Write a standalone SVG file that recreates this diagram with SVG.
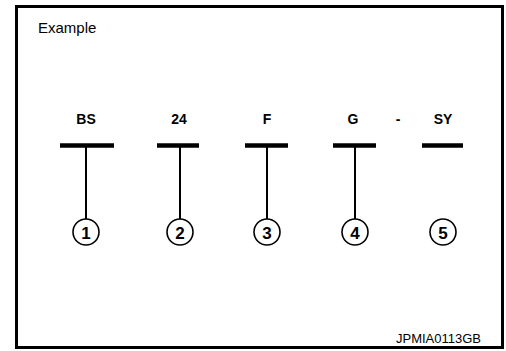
<svg xmlns="http://www.w3.org/2000/svg" width="506" height="351" viewBox="0 0 506 351">
<style>
.t{font-family:"Liberation Sans",Arial,sans-serif;fill:#000}
.lab{font-size:14px;font-weight:bold;text-anchor:middle}
.num{font-size:17px;font-weight:bold;text-anchor:middle}
.bar{stroke:#000;stroke-width:4.5}
.wire{stroke:#000;stroke-width:2}
.c{fill:#fff;stroke:#000;stroke-width:1.6}
</style>
<rect x="16.5" y="6.5" width="486" height="341" fill="#fff" stroke="#000" stroke-width="3"/>
<text class="t" x="38" y="33" font-size="15">Example</text>
<g id="connectors">
<line class="wire" x1="86" y1="145" x2="86" y2="219"/>
<line class="wire" x1="180" y1="145" x2="180" y2="219"/>
<line class="wire" x1="267" y1="145" x2="267" y2="219"/>
<line class="wire" x1="355" y1="145" x2="355" y2="219"/>
</g>
<g id="n1"><text class="t lab" x="86" y="124">BS</text><line class="bar" x1="60" y1="145.5" x2="114" y2="145.5"/><circle class="c" cx="86" cy="232" r="13"/><text class="t num" x="86" y="238.5">1</text></g>
<g id="n2"><text class="t lab" x="179" y="124">24</text><line class="bar" x1="157" y1="145.5" x2="199" y2="145.5"/><circle class="c" cx="180" cy="232" r="13"/><text class="t num" x="180" y="238.5">2</text></g>
<g id="n3"><text class="t lab" x="267" y="124">F</text><line class="bar" x1="245" y1="145.5" x2="288" y2="145.5"/><circle class="c" cx="267" cy="232" r="13"/><text class="t num" x="267" y="238.5">3</text></g>
<g id="n4"><text class="t lab" x="353" y="124">G</text><line class="bar" x1="333" y1="145.5" x2="376" y2="145.5"/><circle class="c" cx="355" cy="232" r="13"/><text class="t num" x="355" y="238.5">4</text></g>
<g id="dash"><text class="t lab" x="398" y="124">-</text></g>
<g id="n5"><text class="t lab" x="443" y="124">SY</text><line class="bar" x1="422" y1="145.5" x2="463" y2="145.5"/><circle class="c" cx="443" cy="232" r="13"/><text class="t num" x="443" y="238.5">5</text></g>
<text class="t" x="481" y="343" font-size="13" text-anchor="end">JPMIA0113GB</text>
</svg>
